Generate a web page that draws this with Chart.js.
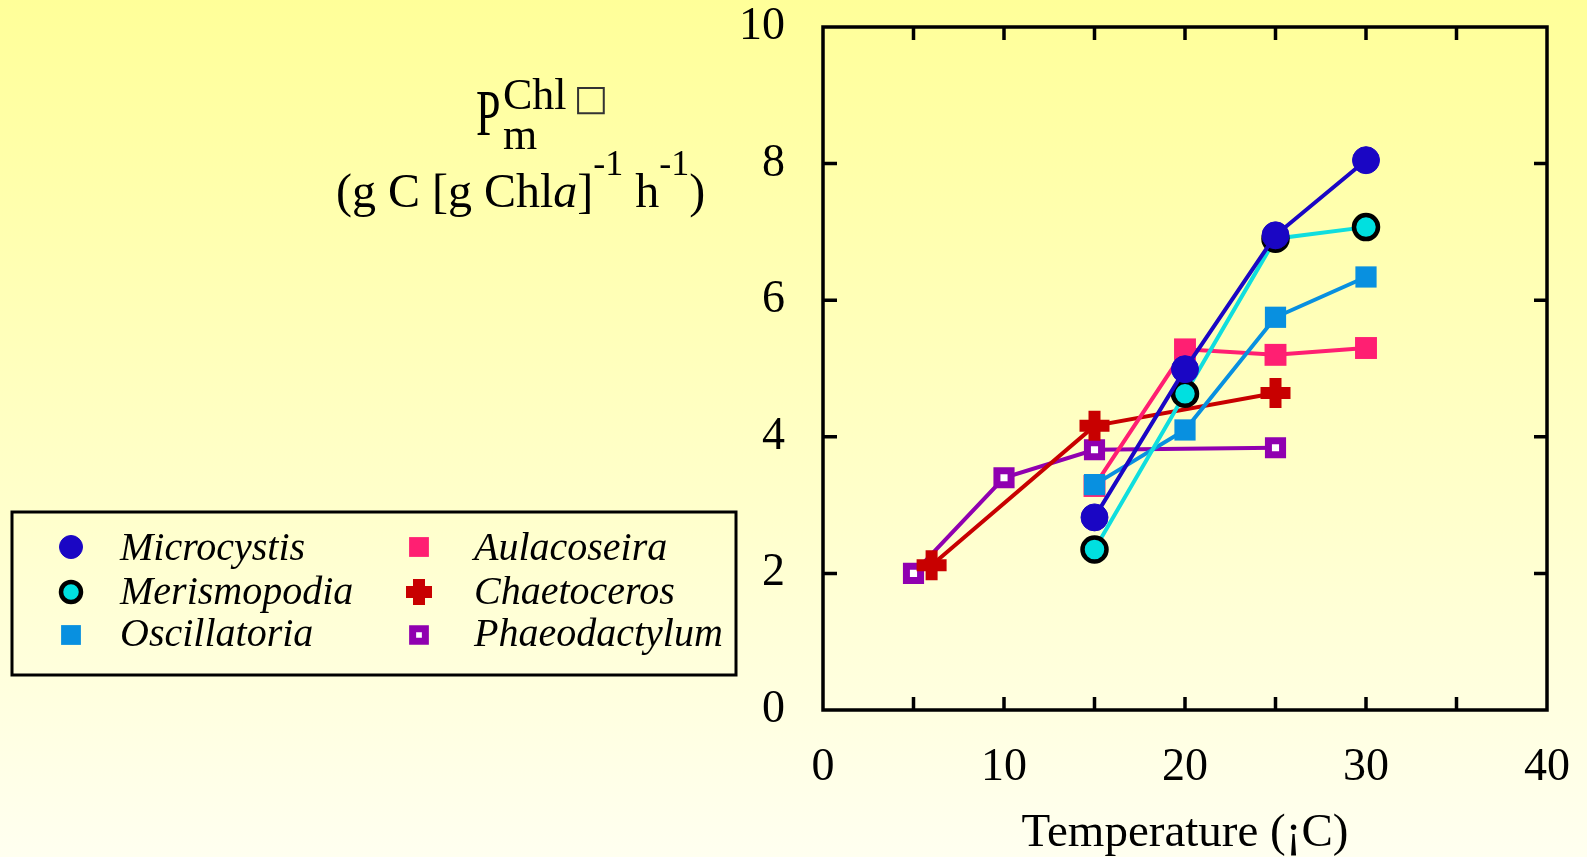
<!DOCTYPE html>
<html>
<head>
<meta charset="utf-8">
<title>Pm vs temperature</title>
<script src="https://cdn.jsdelivr.net/npm/chart.js@4.4.1/dist/chart.umd.min.js"></script>
<style>
  html, body {
    margin: 0;
    padding: 0;
  }
  body {
    width: 1587px;
    height: 857px;
    overflow: hidden;
    position: relative;
    background: linear-gradient(to bottom, #ffff99 0%, #ffffcc 60%, #fffff0 100%);
    font-family: "Liberation Serif", "Times New Roman", serif;
    color: #000;
  }
  #wrap {
    position: absolute;
    left: 0;
    top: 0;
    width: 1587px;
    height: 857px;
  }
  .t {
    position: absolute;
    line-height: 1;
    white-space: nowrap;
  }
  .leg {
    font-style: italic;
    font-size: 40px;
  }
  .sup {
    position: relative;
    top: -32px;
    font-size: 36px;
  }
</style>
</head>
<body>
<div id="wrap"><canvas id="chart"></canvas></div>

<!-- y axis title -->
<div class="t" style="left:476px; top:103px; font-size:44px; transform:scaleY(1.5); transform-origin:0 100%;">P</div>
<div class="t" style="left:503px; top:73px; font-size:44px;">Chl</div>
<div class="t" style="left:574px; top:80px; font-size:36px; font-family:'DejaVu Sans'; color:#333;">□</div>
<div class="t" style="left:503px; top:113px; font-size:44px;">m</div>
<div class="t" style="left:336px; top:167px; font-size:48px;">(g C [g Chl<i>a</i>]<span class="sup">-1</span> h<span class="sup">-1</span>)</div>

<!-- legend labels -->
<div class="t leg" style="left:120px; top:527px;">Microcystis</div>
<div class="t leg" style="left:120px; top:571px;">Merismopodia</div>
<div class="t leg" style="left:120px; top:613px;">Oscillatoria</div>
<div class="t leg" style="left:474px; top:527px;">Aulacoseira</div>
<div class="t leg" style="left:474px; top:571px;">Chaetoceros</div>
<div class="t leg" style="left:474px; top:613px;">Phaeodactylum</div>

<script>
// temperature (°C) and Pm (g C [g Chla]-1 h-1) for each species
const microcystisTemp = [15, 20, 25, 30];
const microcystisRate = [2.82, 4.99, 6.95, 8.05];
const merismopodiaTemp = [15, 20, 25, 30];
const merismopodiaRate = [2.35, 4.63, 6.9, 7.07];
const oscillatoriaTemp = [15, 20, 25, 30];
const oscillatoriaRate = [3.3, 4.1, 5.75, 6.34];
const aulacoseiraTemp = [15, 20, 25, 30];
const aulacoseiraRate = [3.28, 5.28, 5.2, 5.3];
const chaetocerosTemp = [6, 15, 25];
const chaetocerosRate = [2.12, 4.16, 4.64];
const phaeodactylumTemp = [5, 10, 15, 25];
const phaeodactylumRate = [2.0, 3.4, 3.81, 3.84];

// axis ticks
const xTickStep = 10;
const xInnerTicks = [5, 10, 15, 20, 25, 30, 35];
const yTickStep = 2;
const yInnerTicks = [2, 4, 6, 8];

function pairs(temps, rates) {
    return temps.map((t, i) => ({ x: t, y: rates[i] }));
}

function series(label, temps, rates, style) {
    return Object.assign({
        label: label,
        data: pairs(temps, rates),
        borderWidth: 4,
        tension: 0,
        fill: false
    }, style);
}

const datasets = [
    series('Microcystis', microcystisTemp, microcystisRate, {
        borderColor: '#1a06c4',
        pointStyle: 'circle', pointRadius: 13.5,
        pointBackgroundColor: '#1a06c4', pointBorderColor: '#1a06c4', pointBorderWidth: 1
    }),
    series('Merismopodia', merismopodiaTemp, merismopodiaRate, {
        borderColor: '#10dede',
        pointStyle: 'circle', pointRadius: 12,
        pointBackgroundColor: '#00e0e0', pointBorderColor: '#000000', pointBorderWidth: 4.5
    }),
    series('Oscillatoria', oscillatoriaTemp, oscillatoriaRate, {
        borderColor: '#0890e0',
        pointStyle: 'rect', pointRadius: 15,
        pointBackgroundColor: '#0890e0', pointBorderColor: '#0890e0', pointBorderWidth: 0
    }),
    series('Aulacoseira', aulacoseiraTemp, aulacoseiraRate, {
        borderColor: '#ff1f72',
        pointStyle: 'rect', pointRadius: 15.5,
        pointBackgroundColor: '#ff1f72', pointBorderColor: '#ff1f72', pointBorderWidth: 0
    }),
    series('Chaetoceros', chaetocerosTemp, chaetocerosRate, {
        borderColor: '#c80000',
        pointStyle: 'cross', pointRadius: 15,
        pointBackgroundColor: '#c80000', pointBorderColor: '#c80000', pointBorderWidth: 12
    }),
    series('Phaeodactylum', phaeodactylumTemp, phaeodactylumRate, {
        borderColor: '#9000b0',
        pointStyle: 'rect', pointRadius: 10,
        pointBackgroundColor: '#ffffff', pointBorderColor: '#9000b0', pointBorderWidth: 7
    })
];

// closed frame with inward tick marks on all four sides
const framePlugin = {
    id: 'frame',
    afterDraw(chart) {
        const ctx = chart.ctx;
        const { left, right, top, bottom } = chart.chartArea;
        const xs = chart.scales.x;
        const ys = chart.scales.y;
        ctx.save();
        ctx.strokeStyle = '#000';
        ctx.lineWidth = 3.5;
        ctx.lineCap = 'butt';
        ctx.strokeRect(left, top, right - left, bottom - top);
        ctx.beginPath();
        xInnerTicks.forEach(v => {
            const x = xs.getPixelForValue(v);
            ctx.moveTo(x, bottom); ctx.lineTo(x, bottom - 13);
            ctx.moveTo(x, top); ctx.lineTo(x, top + 13);
        });
        yInnerTicks.forEach(v => {
            const y = ys.getPixelForValue(v);
            ctx.moveTo(left, y); ctx.lineTo(left + 14, y);
            ctx.moveTo(right, y); ctx.lineTo(right - 13, y);
        });
        ctx.stroke();
        ctx.restore();
    }
};

// legend box and its markers (labels are html)
const legendSlots = [
    { x: 71, y: 547, r: 11.5 },
    { x: 71, y: 592, r: 10 },
    { x: 71, y: 635, r: 14 },
    { x: 419, y: 547, r: 14 },
    { x: 419, y: 592, r: 13 },
    { x: 419, y: 635, r: 9 }
];

const legendPlugin = {
    id: 'sideLegend',
    afterDraw(chart) {
        const ctx = chart.ctx;
        ctx.save();
        ctx.strokeStyle = '#000';
        ctx.lineWidth = 3;
        ctx.strokeRect(12, 512, 724, 163);
        chart.data.datasets.forEach((ds, i) => {
            const slot = legendSlots[i];
            ctx.fillStyle = ds.pointBackgroundColor;
            ctx.strokeStyle = ds.pointBorderColor;
            ctx.lineWidth = ds.pointBorderWidth;
            Chart.helpers.drawPoint(ctx, {
                pointStyle: ds.pointStyle,
                radius: slot.r,
                borderWidth: ds.pointBorderWidth,
                rotation: 0
            }, slot.x, slot.y);
        });
        ctx.restore();
    }
};

// keep the plot box fixed: labels may spill into the margins
function noScalePadding(scale) {
    scale.paddingTop = 0;
    scale.paddingBottom = 0;
    scale.paddingLeft = 0;
    scale.paddingRight = 0;
}

const tickFont = { family: '"Liberation Serif", "Times New Roman", serif', size: 46, lineHeight: 1 };

new Chart(document.getElementById('chart').getContext('2d'), {
    type: 'line',
    data: { datasets: datasets },
    options: {
        responsive: true,
        maintainAspectRatio: false,
        animation: false,
        events: [],
        layout: { padding: { left: 0, top: 25, right: 40, bottom: 0 } },
        plugins: {
            legend: { display: false },
            tooltip: { enabled: false }
        },
        scales: {
            x: {
                type: 'linear',
                min: 0,
                max: 40,
                grid: { display: false },
                border: { display: false },
                ticks: { stepSize: xTickStep, color: '#000', font: tickFont, padding: 27, maxRotation: 0 },
                title: {
                    display: true,
                    text: 'Temperature (¡C)',
                    color: '#000',
                    font: { family: '"Liberation Serif", "Times New Roman", serif', size: 47, lineHeight: 1 },
                    padding: 0
                },
                afterFit(scale) {
                    scale.height = 147;
                    noScalePadding(scale);
                }
            },
            y: {
                min: 0,
                max: 10,
                grid: { display: false },
                border: { display: false },
                ticks: { stepSize: yTickStep, color: '#000', font: tickFont, padding: 30 },
                afterFit(scale) {
                    scale.width = 823;
                    noScalePadding(scale);
                }
            }
        }
    },
    plugins: [framePlugin, legendPlugin]
});
</script>
</body>
</html>
